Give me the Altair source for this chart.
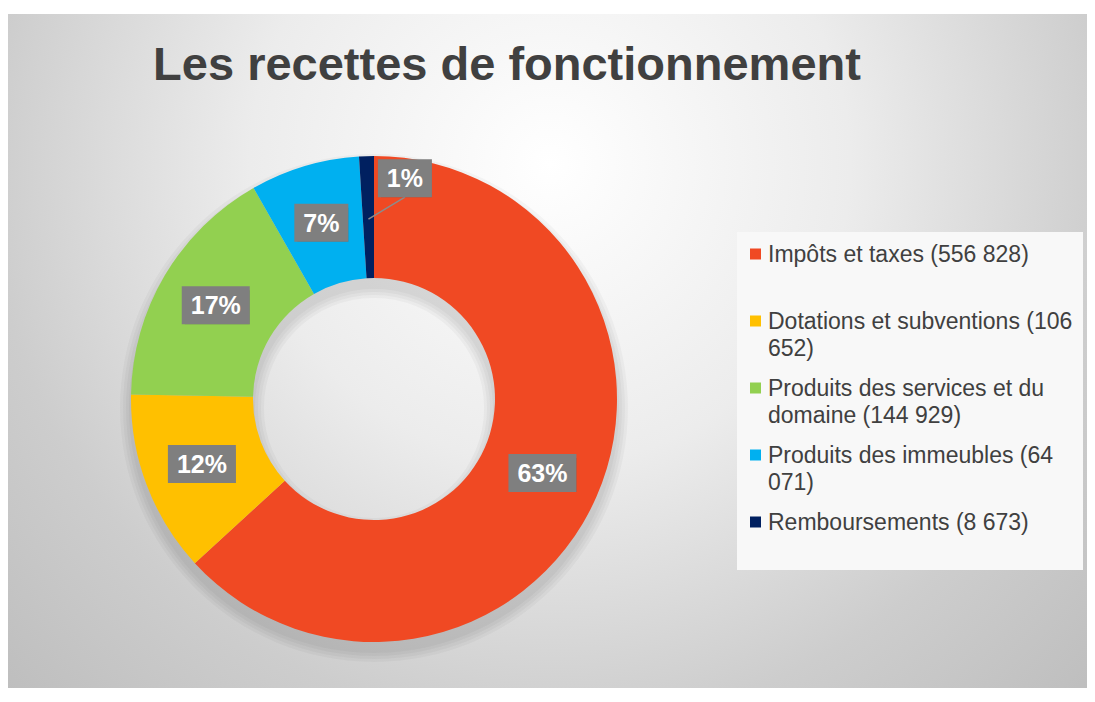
import altair as alt
import pandas as pd

# ---------------- data ----------------
categories = [
    "Impôts et taxes",
    "Dotations et subventions",
    "Produits des services et du domaine",
    "Produits des immeubles",
    "Remboursements",
]
values = [556828, 106652, 144929, 64071, 8673]
pct_labels = ["63%", "12%", "17%", "7%", "1%"]
colors = ["#F04923", "#FFC000", "#92D050", "#00B0F0", "#002060"]
legend_lines = [
    ["Impôts et taxes (556 828)"],
    ["Dotations et subventions (106", "652)"],
    ["Produits des services et du", "domaine (144 929)"],
    ["Produits des immeubles (64", "071)"],
    ["Remboursements (8 673)"],
]
title_text = "Les recettes de fonctionnement"

# ---------------- layout constants ----------------
W, H = 1079, 674
CX, CY = 366, 385
R_OUT, R_IN = 243, 121
R_LAB = 184
FONT = "Liberation Sans"
TXT = "#404040"

df = pd.DataFrame({"idx": list(range(len(categories))), "cat": categories,
                   "value": values, "pct": pct_labels})
one = pd.DataFrame({"k": [0]})

color_scale = alt.Scale(domain=categories, range=colors)

# background panel with radial gradient (square box so the gradient is circular)
bg = alt.Chart(one).mark_rect(
    clip=True,
    fill={"gradient": "radial", "x1": 0.5, "y1": 0.5, "r1": 0,
          "x2": 0.5, "y2": 0.5, "r2": 0.5,
          "stops": [{"offset": 0, "color": "#ffffff"},
                    {"offset": 0.39, "color": "#ececec"},
                    {"offset": 0.73, "color": "#cdcdcd"},
                    {"offset": 1, "color": "#bdbdbd"}]},
).encode(x=alt.value(-228), x2=alt.value(1312), y=alt.value(-620), y2=alt.value(920))

# soft shadow of the donut (offset downwards)
shadow_layers = []
for d in [2, 5, 8, 11]:
    shadow_layers.append(
        alt.Chart(one).mark_arc(theta=0, theta2=6.2832, innerRadius=R_IN - d,
                                outerRadius=R_OUT + d, color="black", opacity=0.03)
        .encode(x=alt.value(CX), y=alt.value(CY + 9))
    )

arcs = alt.Chart(df).mark_arc(innerRadius=R_IN, outerRadius=R_OUT).encode(
    theta=alt.Theta("value:Q", stack=True),
    color=alt.Color("cat:N", scale=color_scale, legend=None),
    order=alt.Order("idx:Q"),
    x=alt.value(CX),
    y=alt.value(CY),
)

lab = alt.Chart(df).transform_joinaggregate(total="sum(value)").transform_window(
    cum="sum(value)", sort=[alt.SortField("idx")], frame=[None, 0]
).transform_calculate(
    frac="datum.value / datum.total",
).transform_calculate(
    mid="2 * PI * (datum.cum - datum.value / 2) / datum.total",
).transform_calculate(
    la="datum.frac < 0.02 ? datum.mid + 0.17 : datum.mid",
    lr=f"datum.frac < 0.02 ? 223 : {R_LAB}",
).transform_calculate(
    lx=f"{CX} + datum.lr * sin(datum.la)",
    ly=f"{CY} - datum.lr * cos(datum.la)",
    bw="22 + 14 * (length(datum.pct) - 1) + 18",
    sx=f"{CX} + 180 * sin(datum.mid)",
    sy=f"{CY} - 180 * cos(datum.mid)",
).transform_calculate(
    bx1="datum.lx - datum.bw / 2",
    bx2="datum.lx + datum.bw / 2",
    by1="datum.ly - 19",
    by2="datum.ly + 19",
)

def px(f):
    return alt.X(f, type="quantitative", scale=None, axis=None)

def py(f):
    return alt.Y(f, type="quantitative", scale=None, axis=None)

leader = lab.transform_filter("datum.frac < 0.02").mark_rule(
    color="#8c8c8c", strokeWidth=1.5
).encode(x=px("sx"), y=py("sy"), x2="lx:Q", y2="by2:Q")

box_shadow = lab.mark_rect(color="black", opacity=0.22, xOffset=3, yOffset=4).encode(
    x=px("bx1"), x2="bx2:Q", y=py("by1"), y2="by2:Q"
)
boxes = lab.mark_rect(color="#7f7f7f").encode(
    x=px("bx1"), x2="bx2:Q", y=py("by1"), y2="by2:Q"
)
texts = lab.mark_text(font=FONT, fontSize=25, fontWeight="bold", color="white",
                      align="center", baseline="middle", dy=1).encode(
    x=px("lx"), y=py("ly"), text=alt.Text("pct:N")
)

# ---------------- legend ----------------
leg_rows = []
for i, lines in enumerate(legend_lines):
    for j, t in enumerate(lines):
        leg_rows.append({"item": i, "line": j, "text": t, "cat": categories[i]})
leg_df = pd.DataFrame(leg_rows)

legend_box = alt.Chart(one).mark_rect(color="#f8f8f8").encode(
    x=alt.value(729), x2=alt.value(1075), y=alt.value(218), y2=alt.value(556)
)

leg = alt.Chart(leg_df).transform_calculate(
    ty="248 + 67 * datum.item + 27 * datum.line",
    my1="234.5 + 67 * datum.item",
    my2="245.5 + 67 * datum.item",
)
leg_marks = leg.transform_filter("datum.line == 0").mark_rect().encode(
    x=alt.value(742), x2=alt.value(753), y=py("my1"), y2="my2:Q",
    color=alt.Color("cat:N", scale=color_scale, legend=None),
)
leg_text = leg.mark_text(font=FONT, fontSize=23, color=TXT, align="left",
                         baseline="alphabetic").encode(
    x=alt.value(760), y=py("ty"), text="text:N"
)

title = alt.Chart(pd.DataFrame({"t": [title_text]})).mark_text(
    font=FONT, fontSize=47, fontWeight="bold", color=TXT, align="center",
    baseline="alphabetic"
).encode(x=alt.value(499), y=alt.value(66), text="t:N")

chart = alt.layer(
    bg, *shadow_layers, arcs, leader, box_shadow, boxes, texts,
    legend_box, leg_marks, leg_text, title
).properties(
    width=W, height=H,
    padding={"left": 0, "top": 6, "right": 0, "bottom": 0},
    autosize=alt.AutoSizeParams(type="none"),
    background="white",
).configure_view(stroke="#bfbfbf", strokeWidth=1)

chart.save("out.html", embed_options={"renderer": "svg", "actions": False})
